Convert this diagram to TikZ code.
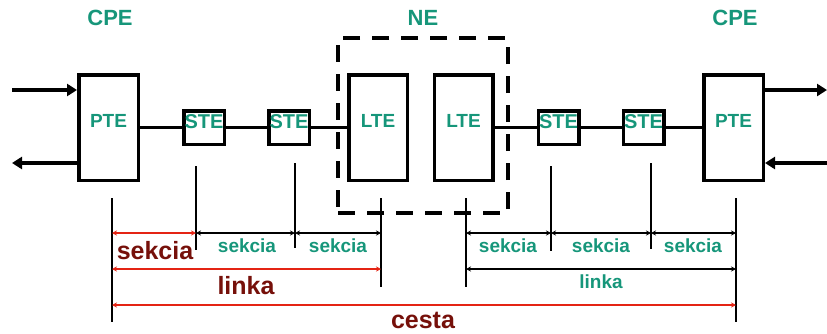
\documentclass[tikz,border=0pt]{standalone}
\usepackage{fontspec}
\setmainfont{Liberation Sans}
\usetikzlibrary{arrows.meta,positioning}
\definecolor{labgreen}{RGB}{22,150,122}
\definecolor{labbrown}{RGB}{118,16,10}
\definecolor{dimred}{RGB}{228,36,20}

\tikzset{
  unit/.style={draw,line width=3.5pt,inner sep=0pt,text=labgreen,text depth=13pt,
    font=\bfseries\fontsize{19}{19}\selectfont},
  pte/.style={unit,minimum width=59.5pt,minimum height=105.5pt},
  lte/.style={unit,minimum width=58.5pt,minimum height=105.5pt},
  ste/.style={unit,minimum width=40.5pt,minimum height=33.5pt,text depth=12pt,
    font=\bfseries\fontsize{20}{20}\selectfont},
  nebox/.style={draw,line width=3.5pt,dash pattern=on 17pt off 12pt,
    minimum width=170pt,minimum height=175pt},
  link/.style={line width=3.5pt},
  io/.style={line width=3.5pt,-{Triangle[length=10pt,width=12pt]}},
  mark line/.style={line width=2pt},
  dimblack/.style={line width=1.4pt,{Stealth[length=5pt,width=5pt]}-{Stealth[length=5pt,width=5pt]}},
  dimcol/.style={dimblack,draw=dimred,line width=2pt},
  title/.style={text=labgreen,font=\bfseries\fontsize{22}{22}\selectfont},
  small lab/.style={text=labgreen,inner sep=0pt,font=\bfseries\fontsize{19}{19}\selectfont},
  big lab/.style={text=labbrown,inner sep=0pt,font=\bfseries\fontsize{25}{25}\selectfont}
}

\begin{document}
\begin{tikzpicture}[x=1pt,y=-1pt]
\useasboundingbox (0,0) rectangle (827,333);

\node[nebox] (ne) at (423,125.5) {};

\node[pte] (pteL) at (108.5,127.5) {PTE};
\node[ste] (ste1) at (204,127.5) {STE};
\node[ste] (ste2) at (289,127.5) {STE};
\node[lte] (lte1) at (378,127.5) {LTE};
\node[lte] (lte2) at (463.5,127.5) {LTE};
\node[ste] (ste3) at (558.5,127.5) {STE};
\node[ste] (ste4) at (643.5,127.5) {STE};
\node[pte] (pteR) at (733.5,127.5) {PTE};

\node[title] (cpeL) at (110,18) {CPE};
\node[title] (neT) at (423,18) {NE};
\node[title] (cpeR) at (735,18) {CPE};

\draw[link] (pteL) -- (ste1);
\draw[link] (ste1) -- (ste2);
\draw[link,line width=2.5pt] (ste2) -- (lte1);
\draw[link] (lte2) -- (ste3);
\draw[link] (ste3) -- (ste4);
\draw[link] (ste4) -- (pteR);

\coordinate (inL) at (12,90);
\coordinate (outL) at (12,163);
\coordinate (outR) at (827,90);
\coordinate (inR) at (827,163);
\draw[io] (inL) -- (inL-|pteL.west);
\draw[io] (outL-|pteL.west) -- (outL);
\draw[io] (outR-|pteR.east) -- (outR);
\draw[io] (inR) -- (inR-|pteR.east);

\coordinate (t1) at (112,198);
\coordinate (t2) at (196,166);
\coordinate (t3) at (295,163);
\coordinate (t4) at (381,198);
\coordinate (t5) at (466,198);
\coordinate (t6) at (551,166);
\coordinate (t7) at (651,163);
\coordinate (t8) at (736,198);
\draw[mark line] (t1) -- ++(0,124);
\draw[mark line] (t2) -- ++(0,84);
\draw[mark line] (t3) -- ++(0,85);
\draw[mark line] (t4) -- ++(0,89);
\draw[mark line] (t5) -- ++(0,89);
\draw[mark line] (t6) -- ++(0,85);
\draw[mark line] (t7) -- ++(0,86);
\draw[mark line] (t8) -- ++(0,124);

\coordinate (sec) at (0,233);
\coordinate (lin) at (0,269);
\coordinate (ces) at (0,305);
\draw[dimcol] (t1|-sec) -- (t2|-sec);
\draw[dimblack] (t2|-sec) -- (t3|-sec);
\draw[dimblack] (t3|-sec) -- (t4|-sec);
\draw[dimblack] (t5|-sec) -- (t6|-sec);
\draw[dimblack] (t6|-sec) -- (t7|-sec);
\draw[dimblack] (t7|-sec) -- (t8|-sec);
\draw[dimcol] (t1|-lin) -- (t4|-lin);
\draw[dimblack] (t5|-lin) -- (t8|-lin);
\draw[dimcol] (t1|-ces) -- (t8|-ces);

\node[big lab] (sekc1) at (155,251) {sekcia};
\node[small lab] (sekc2) at (247,246) {sekcia};
\node[small lab] (sekc3) at (338,246) {sekcia};
\node[small lab] (sekc4) at (508,246) {sekcia};
\node[small lab] (sekc5) at (601,246) {sekcia};
\node[small lab] (sekc6) at (693,246) {sekcia};
\node[big lab] (linkL) at (246,286) {linka};
\node[small lab] (linkR) at (601,282) {linka};
\node[big lab] (cesta) at (423,320) {cesta};
\end{tikzpicture}
\end{document}
